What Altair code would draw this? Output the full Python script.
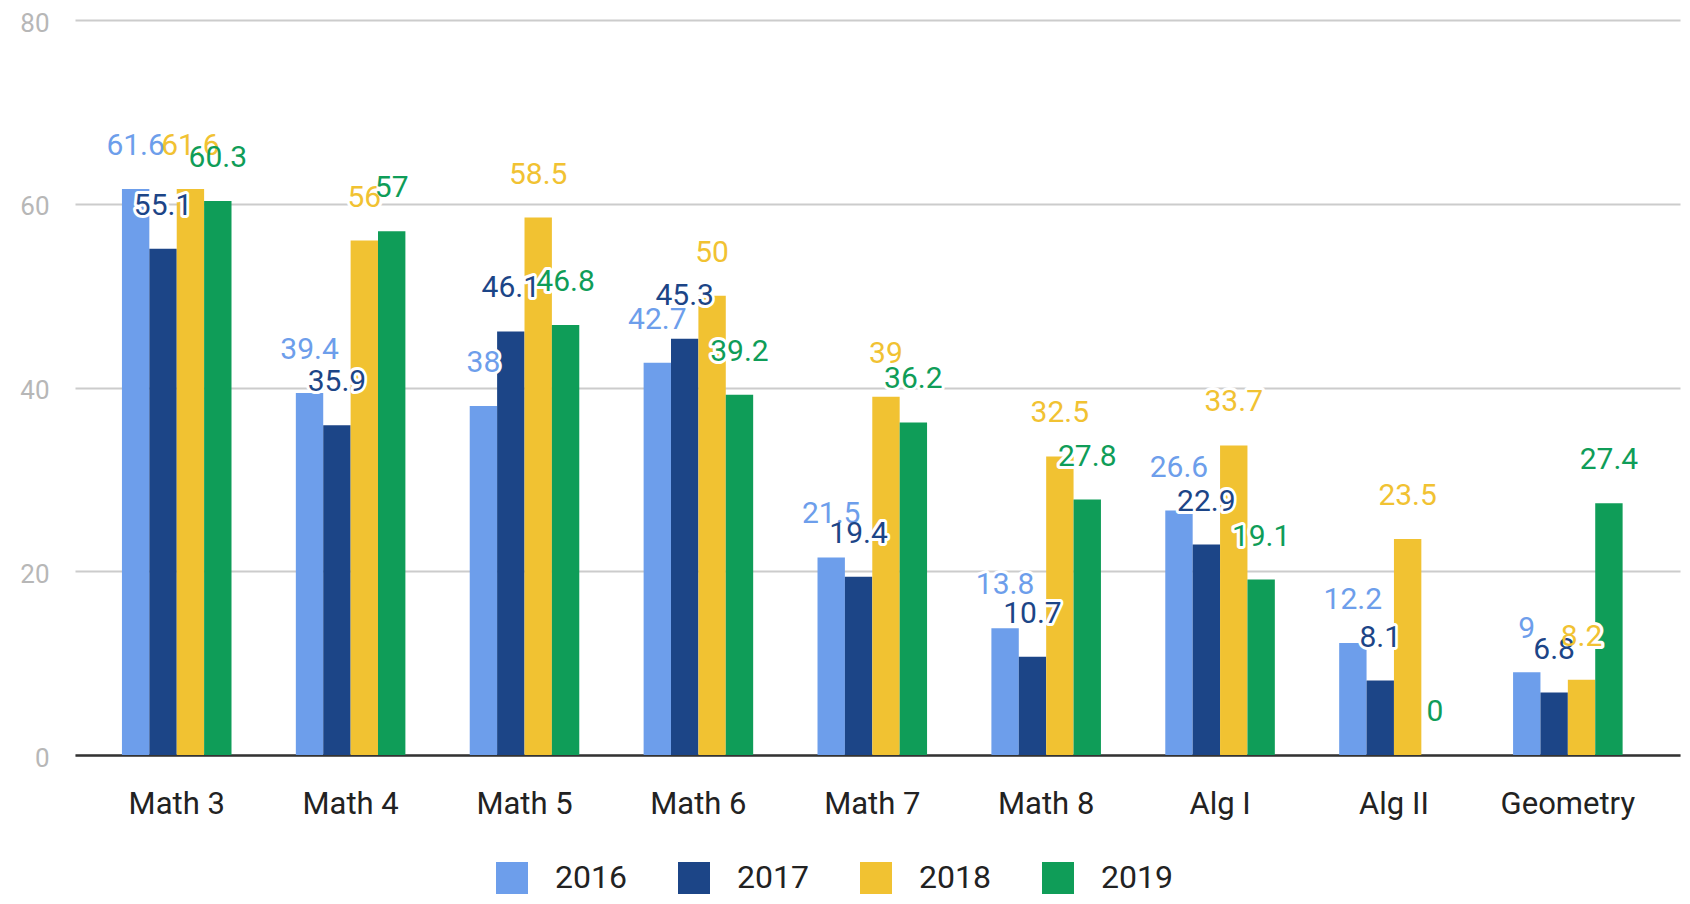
import altair as alt
import pandas as pd

categories = ["Math 3", "Math 4", "Math 5", "Math 6", "Math 7", "Math 8", "Alg I", "Alg II", "Geometry"]
years = ["2016", "2017", "2018", "2019"]
v2016 = [61.6, 39.4, 38, 42.7, 21.5, 13.8, 26.6, 12.2, 9]
v2017 = [55.1, 35.9, 46.1, 45.3, 19.4, 10.7, 22.9, 8.1, 6.8]
v2018 = [61.6, 56, 58.5, 50, 39, 32.5, 33.7, 23.5, 8.2]
v2019 = [60.3, 57, 46.8, 39.2, 36.2, 27.8, 19.1, 0, 27.4]
colors = ["#6d9eeb", "#1c4587", "#f1c232", "#0f9d58"]

rows = []
for yr, vals in zip(years, [v2016, v2017, v2018, v2019]):
    for c, v in zip(categories, vals):
        rows.append({"cat": c, "year": yr, "value": v})
df = pd.DataFrame(rows)

FONT = "Roboto"

x = alt.X("cat:N", sort=categories, title=None,
          scale=alt.Scale(paddingInner=0.37, paddingOuter=0.3, align=0.45),
          axis=alt.Axis(labelAngle=0, labelFontSize=31, labelColor="#222222", labelFont=FONT,
                        labelPadding=34, ticks=False, domainColor="#333333", domainWidth=2.5))
xo = alt.XOffset("year:N", sort=years, scale=alt.Scale(paddingInner=0))
y = alt.Y("value:Q", title=None,
          scale=alt.Scale(domain=[0, 80]),
          axis=alt.Axis(values=[0, 20, 40, 60, 80], labelFontSize=26, labelColor="#b7b7b7", labelFont=FONT,
                        labelPadding=26, labelOffset=3, ticks=False, domain=False,
                        gridColor="#cccccc", gridWidth=2))
color = alt.Color("year:N", sort=years, scale=alt.Scale(domain=years, range=colors),
                  legend=alt.Legend(title=None, orient="none", direction="horizontal",
                                    legendX=421, legendY=842, symbolType="square", symbolSize=1024,
                                    symbolStrokeWidth=0, labelFontSize=32, labelFont=FONT,
                                    labelColor="#222222", labelOffset=27, columnPadding=51,
                                    symbolOpacity=1))

base = alt.Chart(df)
bars = base.mark_bar(cornerRadius=0).encode(x=x, xOffset=xo, y=y, color=color)
halo = base.mark_text(fontSize=30, font=FONT, dy=-43, stroke="white", strokeWidth=6,
                      strokeJoin="round", fill="white").encode(
    x=x, xOffset=xo, y=y, text=alt.Text("value:Q"))
labels = base.mark_text(fontSize=30, font=FONT, dy=-43).encode(
    x=x, xOffset=xo, y=y, text=alt.Text("value:Q"),
    color=alt.Color("year:N", sort=years, scale=alt.Scale(domain=years, range=colors), legend=None))

chart = alt.layer(bars, halo, labels).properties(
    width=1605, height=735,
    autosize=alt.AutoSizeParams(type="none"),
    padding={"left": 67, "top": 12, "right": 2, "bottom": 141},
).configure(background="white", view=alt.ViewConfig(stroke=None))

chart.save("out.html", embed_options={"renderer": "svg", "actions": False})
